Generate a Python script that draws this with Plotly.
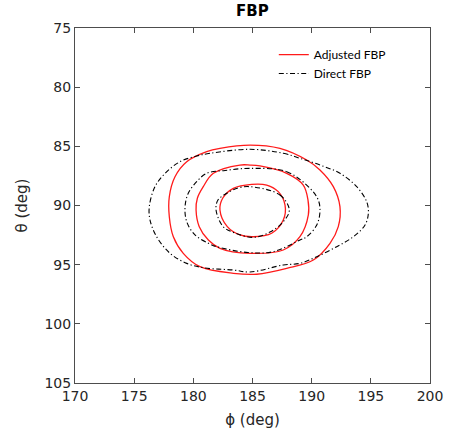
import plotly.graph_objects as go

# ---- data (phi, theta in degrees) ----
adj_outer_phi = [184.79, 187.32, 189.58, 190.70, 191.83, 192.39, 192.25, 191.55, 190.14, 187.89,
                 185.36, 183.38, 180.56, 179.15, 178.31, 177.97, 177.97, 178.45, 179.44, 181.13, 182.25]
adj_outer_theta = [84.89, 85.17, 86.16, 87.00, 88.41, 90.10, 91.79, 93.20, 94.61, 95.31,
                   95.81, 95.73, 95.17, 94.04, 92.64, 90.95, 89.26, 87.57, 86.30, 85.45, 85.17]

adj_mid_phi = [184.79, 185.63, 187.89, 189.29, 189.69, 189.72, 189.01, 187.60, 184.79, 182.25,
               181.27, 180.50, 180.23, 180.34, 180.84, 181.69, 183.94]
adj_mid_theta = [86.58, 86.66, 87.28, 88.27, 89.54, 90.80, 92.64, 93.76, 94.04, 93.62,
                 92.92, 91.79, 90.38, 89.39, 88.41, 87.28, 86.58]

adj_inner_phi = [184.93, 186.20, 187.18, 187.75, 187.60, 186.62, 185.07, 183.94, 182.87, 182.25,
                 182.48, 183.38]
adj_inner_theta = [88.21, 88.27, 88.83, 89.96, 91.23, 92.35, 92.64, 92.49, 91.79, 90.38,
                   89.39, 88.55]

dir_outer_phi = [184.79, 187.60, 189.01, 190.70, 192.39, 193.81, 194.65, 194.79, 194.51, 193.52,
                 192.12, 190.43, 189.01, 187.60, 184.79, 183.38, 180.99, 179.44, 178.03, 176.90,
                 176.34, 176.28, 176.76, 177.61, 178.87, 180.28, 181.41]
dir_outer_theta = [85.25, 85.59, 86.01, 86.58, 87.28, 88.41, 89.68, 90.66, 91.65, 92.64,
                   93.48, 94.33, 94.89, 95.03, 95.62, 95.45, 95.28, 94.89, 94.04, 92.64,
                   91.23, 90.10, 88.41, 87.28, 86.30, 85.82, 85.59]

dir_mid_phi = [184.79, 187.89, 189.86, 190.56, 190.70, 190.43, 189.58, 189.01, 186.76, 184.62,
               181.97, 181.27, 180.14, 179.44, 179.30, 179.57, 180.28, 181.13, 182.68]
dir_mid_theta = [86.86, 87.14, 88.55, 89.54, 90.52, 91.65, 92.64, 92.92, 93.90, 93.97,
                 93.48, 93.19, 92.49, 91.37, 90.10, 88.97, 87.99, 87.28, 87.04]

dir_inner_phi = [184.79, 187.32, 188.11, 187.60, 186.48, 185.07, 183.52, 182.53, 181.92, 182.08,
                 182.82, 183.77]
dir_inner_theta = [88.41, 89.11, 90.38, 91.37, 92.24, 92.69, 92.32, 91.79, 90.38, 89.54,
                   88.97, 88.52]

x_ticks = [170, 175, 180, 185, 190, 195, 200]
y_ticks = [75, 80, 85, 90, 95, 100, 105]

series = [
    ("Adjusted FBP", [(adj_outer_phi, adj_outer_theta), (adj_mid_phi, adj_mid_theta),
                      (adj_inner_phi, adj_inner_theta)],
     dict(color="#ff1a1a", width=1.3, dash="solid")),
    ("Direct FBP", [(dir_outer_phi, dir_outer_theta), (dir_mid_phi, dir_mid_theta),
                    (dir_inner_phi, dir_inner_theta)],
     dict(color="#000000", width=1.1, dash="5px,2.5px,1.2px,2.5px")),
]

fig = go.Figure()
for name, loops, style in series:
    for i, (px, py) in enumerate(loops):
        xs = list(px) + [px[0]]
        ys = list(py) + [py[0]]
        fig.add_trace(go.Scatter(
            x=xs, y=ys, mode="lines", name=name, legendgroup=name,
            showlegend=(i == 0),
            line=dict(shape="spline", smoothing=1.0, **style),
        ))

axis_common = dict(
    showgrid=False, zeroline=False, showline=True, linecolor="#4d4d4d", linewidth=1,
    mirror="ticks", ticks="inside", ticklen=5, tickcolor="#4d4d4d", tickwidth=1,
    automargin=False,
    tickfont=dict(family="DejaVu Sans", size=14, color="#262626"),
)

fig.update_layout(
    width=450, height=436,
    margin=dict(l=75, r=20, t=28, b=53, autoexpand=False),
    paper_bgcolor="white", plot_bgcolor="white",
    xaxis=dict(range=[170, 200], tickvals=x_ticks, ticktext=[str(v) for v in x_ticks],
               title=dict(text="ϕ (deg)", standoff=11,
                          font=dict(family="DejaVu Sans", size=15, color="#262626")),
               **axis_common),
    yaxis=dict(range=[105, 75], tickvals=y_ticks, ticktext=[str(v) for v in y_ticks],
               title=dict(text="θ (deg)", standoff=13,
                          font=dict(family="DejaVu Sans", size=15, color="#262626")),
               **axis_common),
    legend=dict(x=0.56, y=0.966, xanchor="left", yanchor="top", bgcolor="rgba(0,0,0,0)",
                font=dict(family="Lato", size=12, color="black"), tracegroupgap=0,
                itemwidth=30),
    showlegend=True,
    annotations=[dict(text="<b>FBP</b>", xref="paper", yref="paper", x=0.5, y=1,
                      xanchor="center", yanchor="bottom", yshift=6, showarrow=False,
                      font=dict(family="DejaVu Sans", size=15, color="black"))],
)

# remove the default 8px page margin so the figure sits at the window's corner
fig.write_html("out.html", config={"displayModeBar": False},
               post_script="document.body.style.margin='0';")
